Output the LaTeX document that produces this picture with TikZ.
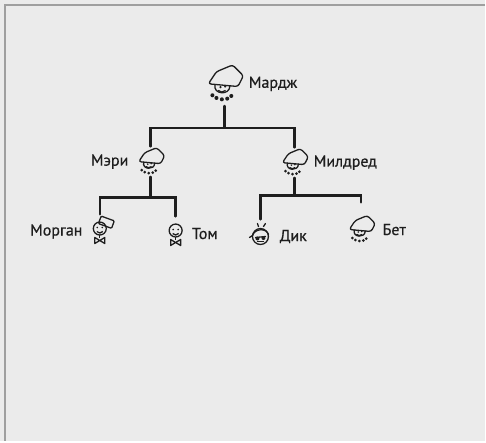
\documentclass[tikz,border=0pt]{standalone}
\usepackage{fontspec}
\setmainfont{PT Sans}
\newfontfamily\hand{PT Sans}[FakeBold=0.6]
\usetikzlibrary{positioning}

\definecolor{paper}{HTML}{EBEBEB}
\definecolor{ink}{HTML}{1E1E1E}

\tikzset{
  person/.style={minimum width=28pt, minimum height=30pt, inner sep=0pt},
  kid/.style={minimum width=22pt, minimum height=34pt, inner sep=0pt},
  who/.style={font=\hand\fontsize{16}{16}\selectfont, text=ink, inner sep=0pt},
  tree/.style={draw=ink, line width=2.4pt, line cap=round},
  frame/.style={draw=gray!75, line width=2pt},
  % lady with a bonnet and a string of beads
  pics/lady/.style={code={
    \begin{scope}[draw=ink, fill=ink, line width=1.3pt, line join=round, line cap=round]
      \draw[rounded corners=2.5pt] (-12,0) -- (-6,-9) -- (6,-14) -- (14,-6) -- (10,2) -- cycle;
      \draw (-7,0.5) .. controls (-9,8) and (4,9) .. (4,1.5);
      \fill (-3,2.5) circle (0.9);
      \fill (0.5,2) circle (0.9);
      \draw (-4.5,5) .. controls (-3,6.5) and (-1,6.5) .. (0.5,5);
      \foreach \x/\y in {-9/8.5, -6/10.5, -2/11.5, 2/11, 5/9}
        \fill (\x,\y) circle (1.5);
    \end{scope}}},
  % boy with a bow tie
  pics/lad/.style={code={
    \begin{scope}[draw=ink, fill=ink, line width=1.3pt, line join=round]
      \draw (0,-3) circle (6.5);
      \fill (-2.5,-4) circle (0.9);
      \fill (2.5,-4) circle (0.9);
      \draw (-3,0) .. controls (-1,2) and (1,2) .. (3,0);
      \draw (0,3.5) -- (0,6);
      \draw (-5,6) -- (-5,12) -- (5,6) -- (5,12) -- cycle;
    \end{scope}}},
  pics/hatlad/.style={code={
    \pic {lad};
    \draw[ink, line width=1.3pt, rounded corners=1pt, rotate=-20] (-4,-15) rectangle (10,-7);
  }},
  pics/caplad/.style={code={
    \begin{scope}[draw=ink, line width=1.3pt, line join=round, line cap=round]
      \draw (0,0) circle (8);
      \draw (-8,-1) .. controls (-6,-8) and (6,-9) .. (8,-2);
      \draw (-8,-1) -- (-11,1);
      \draw (-5,1) -- (5,0);
      \fill[ink] (-3,2) circle (2);
      \fill[ink] (3,1.5) circle (2);
      \draw (-3,5) -- (3,5);
      \draw (-2,-10) -- (-3,-13);
      \draw (3,-10) -- (5,-13);
    \end{scope}}}
}

\begin{document}
\begin{tikzpicture}[x=1pt, y=-1pt]
  \fill[paper] (0,0) rectangle (486,442);
  \draw[frame] (486,5) -- (5,5) -- (5,442);

  % people
  \node[person, minimum width=36pt, minimum height=44pt] (marge) at (225,84) {};
  \node[person] (mary) at (151,162) {};
  \node[person] (mildred) at (295,163) {};
  \node[kid] (morgan) at (100,232) {};
  \node[kid] (tom) at (176,234) {};
  \node[kid] (dick) at (261,237) {};
  \node[kid] (beth) at (362,230) {};

  \pic[scale=1.35] at (marge) {lady};
  \pic at (mary) {lady};
  \pic at (mildred) {lady};
  \pic at (morgan) {hatlad};
  \pic at (tom) {lad};
  \pic at (dick) {caplad};
  \pic at (beth) {lady};

  \node[who, right=6pt of marge] {Мардж};
  \node[who, left=8pt of mary] {Мэри};
  \node[who, right=5pt of mildred] {Милдред};
  \node[who, left=6pt of morgan] {Морган};
  \node[who, right=5pt of tom] {Том};
  \node[who, right=8pt of dick] {Дик};
  \node[who, right=10pt of beth] {Бет};

  % family lines
  \coordinate (top) at (225,128);
  \coordinate (left) at (151,198);
  \coordinate (right) at (295,196);

  \draw[tree] (marge.south) -- (top);
  \draw[tree] (mary.north) |- (top) -| (mildred.north);
  \draw[tree] (mary.south) -- (left);
  \draw[tree] (morgan.north) |- (left) -| (tom.north);
  \draw[tree] (mildred.south) -- (right);
  \draw[tree] (dick.north) |- (right) -| ([yshift=10pt]beth.north);
\end{tikzpicture}
\end{document}
